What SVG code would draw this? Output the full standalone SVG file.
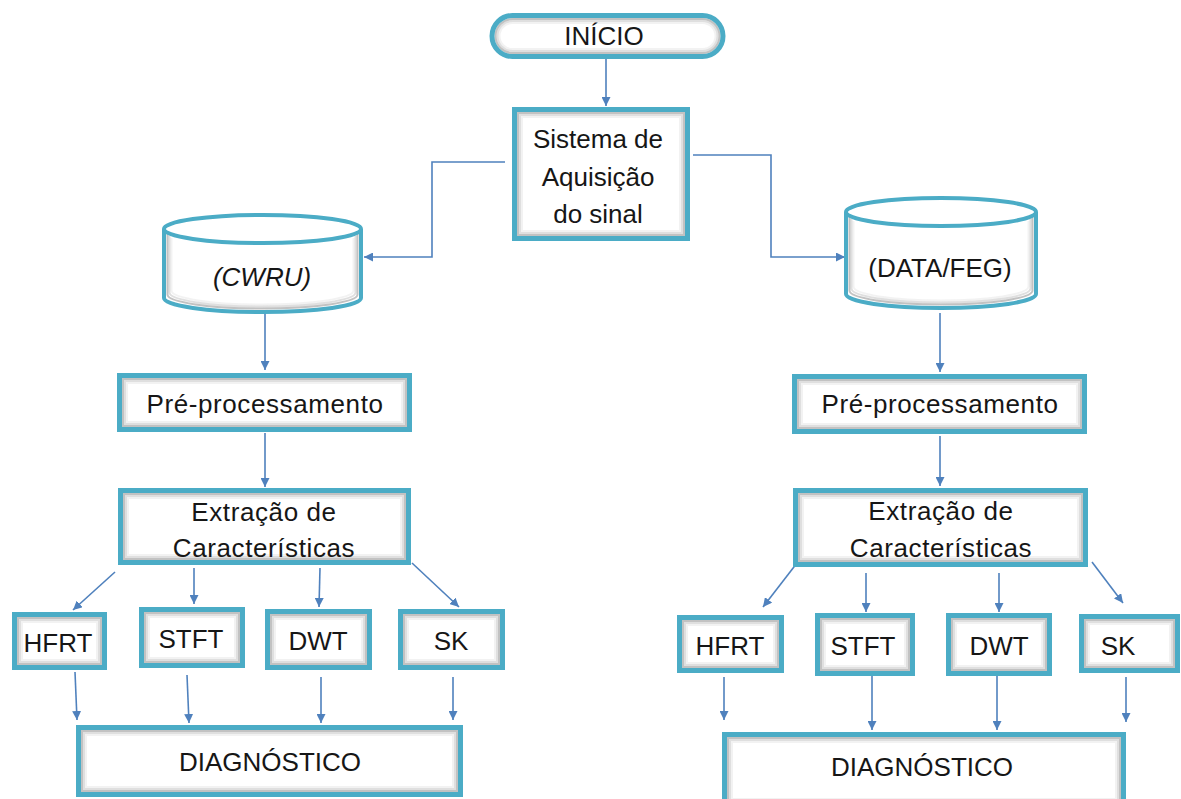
<svg xmlns="http://www.w3.org/2000/svg" width="1181" height="799" viewBox="0 0 1181 799">
  <style>
    .fill { fill: #ffffff; }
    .edge { fill: none; stroke: #4bacc6; stroke-width: 5; }
    .cyl { fill: none; stroke: #4bacc6; stroke-width: 4; }
    .s1, .s2, .s3 { fill: none; stroke: #6e6e6e; stroke-width: 2; }
    .s1 { stroke-opacity: 0.42; }
    .s2 { stroke-opacity: 0.22; }
    .s3 { stroke-opacity: 0.09; }
    text { font-family: "Liberation Sans", Arial, sans-serif; font-size: 26px; fill: #161616; text-anchor: middle; }
    .it { font-style: italic; }
    .sp { letter-spacing: 0.6px; }
    #connectors path { fill: none; stroke: #4f81bd; stroke-width: 1.6; }
  </style>
  <defs>
    <marker id="arrow" viewBox="0 0 10 10" refX="10" refY="5" markerWidth="9" markerHeight="9" markerUnits="userSpaceOnUse" orient="auto">
      <path d="M0,0 L10,5 L0,10 z" fill="#4f81bd"/>
    </marker>
  </defs>

  <g id="connectors" marker-end="url(#arrow)">
    <path d="M606,58 V106"/>
    <path d="M505,162 H432 V257 H364"/>
    <path d="M693,155 H771 V257 H845"/>
    <path d="M265,313 V370"/>
    <path d="M265,433 V487"/>
    <path d="M115,572 L73,610"/>
    <path d="M194,568 V604"/>
    <path d="M320,568 L319,607"/>
    <path d="M412,563 L459,607"/>
    <path d="M75,672 L77,720"/>
    <path d="M187,675 L189,723"/>
    <path d="M321,677 V723"/>
    <path d="M453,677 V720"/>
    <path d="M940,313 V372"/>
    <path d="M940,436 V486"/>
    <path d="M797,563 L763,607"/>
    <path d="M866,573 V612"/>
    <path d="M999,573 V612"/>
    <path d="M1092,562 L1123,603"/>
    <path d="M724,677 V720"/>
    <path d="M872,676 V730"/>
    <path d="M997,676 V730"/>
    <path d="M1126,677 V722"/>
  </g>

  <!-- each node: white body, inner grey shading, teal outline, label -->
  <g id="inicio">
    <rect class="fill" x="492" y="15.5" width="231" height="41" rx="20.5"/>
    <rect class="s1" x="495.5" y="19" width="224" height="34" rx="17"/>
    <rect class="s2" x="497.5" y="21" width="220" height="30" rx="15"/>
    <rect class="s3" x="499.5" y="23" width="216" height="26" rx="13"/>
    <rect class="edge" x="492" y="15.5" width="231" height="41" rx="20.5"/>
    <text x="604" y="45">INÍCIO</text>
  </g>

  <g id="aquisicao">
    <rect class="fill" x="514.5" y="109.5" width="173" height="129"/>
    <rect class="s1" x="518" y="113" width="166" height="122"/>
    <rect class="s2" x="520" y="115" width="162" height="118"/>
    <rect class="s3" x="522" y="117" width="158" height="114"/>
    <rect class="edge" x="514.5" y="109.5" width="173" height="129"/>
    <text x="598" y="148">Sistema de</text>
    <text x="598" y="186">Aquisição</text>
    <text x="598" y="223">do sinal</text>
  </g>

  <g id="cwru">
    <path class="fill" d="M164,229 V298 A98.5,14 0 0 0 361,298 V229 A98.5,14 0 0 0 164,229 z"/>
    <path class="s1" d="M167.5,234 V294.5 A95,14 0 0 0 357.5,294.5 V234"/>
    <path class="s2" d="M169.5,236 V292.5 A93,14 0 0 0 355.5,292.5 V236"/>
    <path class="s3" d="M171.5,238 V290.5 A91,14 0 0 0 353.5,290.5 V238"/>
    <path class="cyl" d="M164,229 V298 A98.5,14 0 0 0 361,298 V229"/>
    <ellipse class="cyl" cx="262.5" cy="229" rx="98.5" ry="14"/>
    <text class="it" x="262" y="286">(CWRU)</text>
  </g>

  <g id="datafeg">
    <path class="fill" d="M846,212 V294 A95,14 0 0 0 1036,294 V212 A95,14 0 0 0 846,212 z"/>
    <path class="s1" d="M849.5,217 V290.5 A91.5,14 0 0 0 1032.5,290.5 V217"/>
    <path class="s2" d="M851.5,219 V288.5 A89.5,14 0 0 0 1030.5,288.5 V219"/>
    <path class="s3" d="M853.5,221 V286.5 A87.5,14 0 0 0 1028.5,286.5 V221"/>
    <path class="cyl" d="M846,212 V294 A95,14 0 0 0 1036,294 V212"/>
    <ellipse class="cyl" cx="941" cy="212" rx="95" ry="14"/>
    <text x="940" y="277">(DATA/FEG)</text>
  </g>

  <g id="pre-esq">
    <rect class="fill" x="119.5" y="375.5" width="290" height="54"/>
    <rect class="s1" x="123" y="379" width="283" height="47"/>
    <rect class="s2" x="125" y="381" width="279" height="43"/>
    <rect class="s3" x="127" y="383" width="275" height="39"/>
    <rect class="edge" x="119.5" y="375.5" width="290" height="54"/>
    <text class="sp" x="265" y="413">Pré-processamento</text>
  </g>

  <g id="extracao-esq">
    <rect class="fill" x="120.5" y="490.5" width="288" height="72"/>
    <rect class="s1" x="124" y="494" width="281" height="65"/>
    <rect class="s2" x="126" y="496" width="277" height="61"/>
    <rect class="s3" x="128" y="498" width="273" height="57"/>
    <rect class="edge" x="120.5" y="490.5" width="288" height="72"/>
    <text class="sp" x="264" y="521">Extração de</text>
    <text class="sp" x="264" y="557">Características</text>
  </g>

  <g id="hfrt-esq">
    <rect class="fill" x="14.5" y="614.5" width="90" height="53"/>
    <rect class="s1" x="18" y="618" width="83" height="46"/>
    <rect class="s2" x="20" y="620" width="79" height="42"/>
    <rect class="s3" x="22" y="622" width="75" height="38"/>
    <rect class="edge" x="14.5" y="614.5" width="90" height="53"/>
    <text x="58" y="652">HFRT</text>
  </g>
  <g id="stft-esq">
    <rect class="fill" x="141.5" y="609.5" width="101" height="56"/>
    <rect class="s1" x="145" y="613" width="94" height="49"/>
    <rect class="s2" x="147" y="615" width="90" height="45"/>
    <rect class="s3" x="149" y="617" width="86" height="41"/>
    <rect class="edge" x="141.5" y="609.5" width="101" height="56"/>
    <text x="191" y="648">STFT</text>
  </g>
  <g id="dwt-esq">
    <rect class="fill" x="267.5" y="611.5" width="102" height="56"/>
    <rect class="s1" x="271" y="615" width="95" height="49"/>
    <rect class="s2" x="273" y="617" width="91" height="45"/>
    <rect class="s3" x="275" y="619" width="87" height="41"/>
    <rect class="edge" x="267.5" y="611.5" width="102" height="56"/>
    <text x="318" y="650">DWT</text>
  </g>
  <g id="sk-esq">
    <rect class="fill" x="400.5" y="611.5" width="102" height="56"/>
    <rect class="s1" x="404" y="615" width="95" height="49"/>
    <rect class="s2" x="406" y="617" width="91" height="45"/>
    <rect class="s3" x="408" y="619" width="87" height="41"/>
    <rect class="edge" x="400.5" y="611.5" width="102" height="56"/>
    <text x="451" y="650">SK</text>
  </g>
  <g id="diagnostico-esq">
    <rect class="fill" x="78.5" y="727.5" width="382" height="67"/>
    <rect class="s1" x="82" y="731" width="375" height="60"/>
    <rect class="s2" x="84" y="733" width="371" height="56"/>
    <rect class="s3" x="86" y="735" width="367" height="52"/>
    <rect class="edge" x="78.5" y="727.5" width="382" height="67"/>
    <text x="270" y="771">DIAGNÓSTICO</text>
  </g>

  <g id="pre-dir">
    <rect class="fill" x="794.5" y="376.5" width="290" height="55"/>
    <rect class="s1" x="798" y="380" width="283" height="48"/>
    <rect class="s2" x="800" y="382" width="279" height="44"/>
    <rect class="s3" x="802" y="384" width="275" height="40"/>
    <rect class="edge" x="794.5" y="376.5" width="290" height="55"/>
    <text class="sp" x="940" y="413">Pré-processamento</text>
  </g>

  <g id="extracao-dir">
    <rect class="fill" x="795.5" y="490.5" width="290" height="74"/>
    <rect class="s1" x="799" y="494" width="283" height="67"/>
    <rect class="s2" x="801" y="496" width="279" height="63"/>
    <rect class="s3" x="803" y="498" width="275" height="59"/>
    <rect class="edge" x="795.5" y="490.5" width="290" height="74"/>
    <text class="sp" x="941" y="520">Extração de</text>
    <text class="sp" x="941" y="557">Características</text>
  </g>

  <g id="hfrt-dir">
    <rect class="fill" x="679.5" y="617.5" width="102" height="53"/>
    <rect class="s1" x="683" y="621" width="95" height="46"/>
    <rect class="s2" x="685" y="623" width="91" height="42"/>
    <rect class="s3" x="687" y="625" width="87" height="38"/>
    <rect class="edge" x="679.5" y="617.5" width="102" height="53"/>
    <text x="730" y="655">HFRT</text>
  </g>
  <g id="stft-dir">
    <rect class="fill" x="817.5" y="615.5" width="95" height="58"/>
    <rect class="s1" x="821" y="619" width="88" height="51"/>
    <rect class="s2" x="823" y="621" width="84" height="47"/>
    <rect class="s3" x="825" y="623" width="80" height="43"/>
    <rect class="edge" x="817.5" y="615.5" width="95" height="58"/>
    <text x="863" y="655">STFT</text>
  </g>
  <g id="dwt-dir">
    <rect class="fill" x="948.5" y="615.5" width="101" height="58"/>
    <rect class="s1" x="952" y="619" width="94" height="51"/>
    <rect class="s2" x="954" y="621" width="90" height="47"/>
    <rect class="s3" x="956" y="623" width="86" height="43"/>
    <rect class="edge" x="948.5" y="615.5" width="101" height="58"/>
    <text x="999" y="655">DWT</text>
  </g>
  <g id="sk-dir">
    <rect class="fill" x="1081.5" y="616.5" width="96" height="54"/>
    <rect class="s1" x="1085" y="620" width="89" height="47"/>
    <rect class="s2" x="1087" y="622" width="85" height="43"/>
    <rect class="s3" x="1089" y="624" width="81" height="39"/>
    <rect class="edge" x="1081.5" y="616.5" width="96" height="54"/>
    <text x="1118" y="655">SK</text>
  </g>
  <g id="diagnostico-dir">
    <rect class="fill" x="724.5" y="734.5" width="399" height="72"/>
    <rect class="s1" x="728" y="738" width="392" height="65"/>
    <rect class="s2" x="730" y="740" width="388" height="61"/>
    <rect class="s3" x="732" y="742" width="384" height="57"/>
    <rect class="edge" x="724.5" y="734.5" width="399" height="72"/>
    <text x="922" y="776">DIAGNÓSTICO</text>
  </g>
</svg>
